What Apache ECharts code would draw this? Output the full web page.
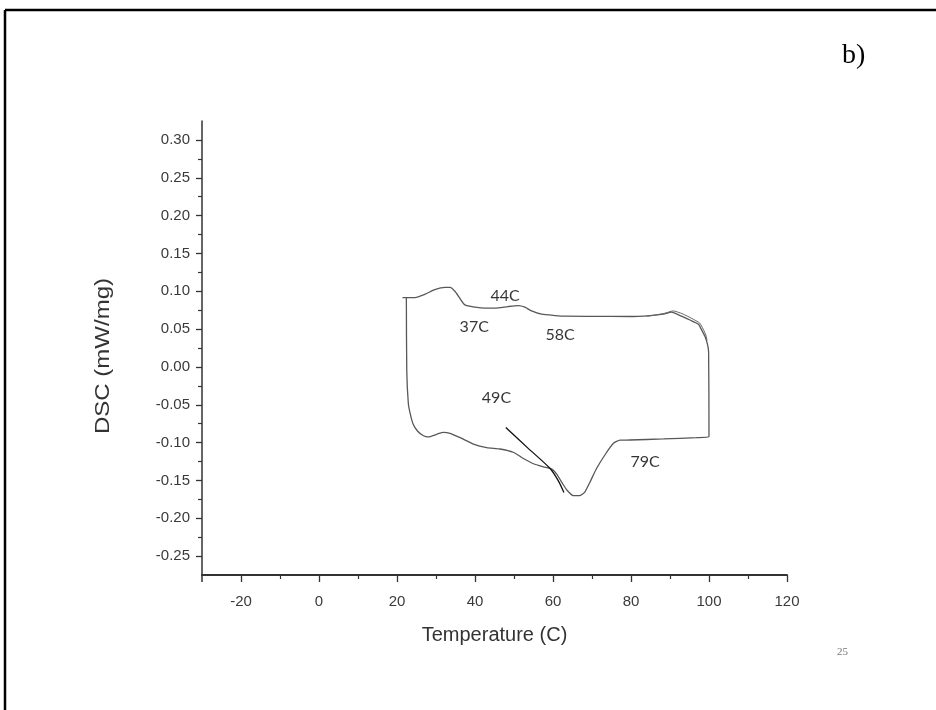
<!DOCTYPE html>
<html>
<head>
<meta charset="utf-8">
<title>DSC thermogram</title>
<script src="https://cdn.jsdelivr.net/npm/echarts@6/dist/echarts.min.js"></script>
<style>
  html, body { margin: 0; padding: 0; background: #ffffff; }
  #chart { width: 936px; height: 710px; }
</style>
</head>
<body>
<div id="chart"></div>
<script>
// Heat-flow loop: heating trace, isothermal step at 100 C, cooling trace back to ~22 C
const loopCurve = [
  [21.4, 0.0917], [24.6, 0.0917], [27.2, 0.0961], [29.7, 0.102], [32.3, 0.105],
  [33.6, 0.105], [34.9, 0.0996], [36.2, 0.090], [37.4, 0.082], [40.0, 0.079],
  [42.6, 0.0776], [45.1, 0.0776], [48.5, 0.0798], [51.1, 0.081], [52.8, 0.079],
  [54.5, 0.074], [57.1, 0.0697], [60.5, 0.0679], [63.1, 0.067], [70.0, 0.0668],
  [79.7, 0.0666], [84.9, 0.0679], [88.3, 0.0697], [90.4, 0.0723], [92.6, 0.0679],
  [95.1, 0.062], [97.3, 0.0564], [98.1, 0.049], [99.0, 0.040], [99.6, 0.030],
  [99.9, 0.020], [100.0, -0.092], [96.8, -0.0935], [88.3, -0.0952], [79.7, -0.0966],
  [77.2, -0.0968], [75.5, -0.101], [73.3, -0.1164], [71.2, -0.134], [69.5, -0.152],
  [68.2, -0.165], [66.9, -0.170], [65.2, -0.170], [63.6, -0.163], [62.3, -0.153],
  [61.0, -0.142], [59.7, -0.135], [57.5, -0.132], [55.0, -0.128], [52.4, -0.121],
  [49.8, -0.1128], [46.4, -0.1085], [43.0, -0.1067], [39.6, -0.102], [36.2, -0.0935],
  [33.6, -0.0877], [31.9, -0.0864], [30.2, -0.089], [28.0, -0.0925], [26.8, -0.091],
  [25.3, -0.085], [24.1, -0.075], [23.4, -0.062], [22.9, -0.048], [22.5, -0.004],
  [22.4, 0.0917]
];

// Repeat heating run, visible where it separates near the end of the ramp
const repeatTrace = [
  [84.0, 0.0668], [88.5, 0.0707], [90.8, 0.0740], [93.2, 0.0702], [95.6, 0.0640],
  [97.6, 0.0580], [98.5, 0.0500], [99.2, 0.0420], [99.5, 0.0350]
];

// Onset tangent drawn on the cooling exotherm
const tangentLine = [
  [47.9, -0.080], [53.5, -0.107], [59.2, -0.134], [61.3, -0.150], [62.8, -0.166]
];

// Transition temperature annotations: [T, DSC, text]
const annotations = [
  [47.7, 0.094, '44C'],
  [39.8, 0.0525, '37C'],
  [61.8, 0.0423, '58C'],
  [45.5, -0.0414, '49C'],
  [83.6, -0.1253, '79C']
];

// Axis ticks
const xMajorTicks = [-20, 0, 20, 40, 60, 80, 100, 120];
const xMinorTicks = [-10, 10, 30, 50, 70, 90, 110];
const yMajorTicks = [-0.25, -0.20, -0.15, -0.10, -0.05, 0.00, 0.05, 0.10, 0.15, 0.20, 0.25, 0.30];
const yMinorTicks = [-0.225, -0.175, -0.125, -0.075, -0.025, 0.025, 0.075, 0.125, 0.175, 0.225, 0.275];

const X_MIN = -30, X_MAX = 120, Y_MIN = -0.275, Y_MAX = 0.325;
const axisColor = '#333333';
const labelFont = 'Liberation Sans, Arial, sans-serif';

const chart = echarts.init(document.getElementById('chart'), null, { renderer: 'canvas' });

const option = {
  backgroundColor: '#ffffff',
  animation: false,
  grid: { left: 202, right: 149, top: 121, bottom: 135, containLabel: false },
  xAxis: [
    {
      type: 'value', min: X_MIN, max: X_MAX, interval: 10,
      position: 'bottom',
      name: 'Temperature (C)', nameLocation: 'middle', nameGap: 50,
      nameTextStyle: { fontFamily: labelFont, fontSize: 20, color: '#333' },
      axisLine: { show: true, onZero: false, lineStyle: { color: axisColor, width: 2 } },
      axisTick: { show: true, inside: false, length: 7, customValues: xMajorTicks, lineStyle: { color: axisColor, width: 1.3 } },
      axisLabel: { show: true, customValues: xMajorTicks, margin: 19, fontFamily: labelFont, fontSize: 15, color: '#3a3a3a' },
      splitLine: { show: false }
    },
    {
      type: 'value', min: X_MIN, max: X_MAX, interval: 10,
      position: 'bottom', gridIndex: 0,
      axisLine: { show: false, onZero: false },
      axisTick: { show: true, length: 4, customValues: xMinorTicks, lineStyle: { color: axisColor, width: 1.2 } },
      axisLabel: { show: false },
      splitLine: { show: false }
    }
  ],
  yAxis: [
    {
      type: 'value', min: Y_MIN, max: Y_MAX, interval: 0.025,
      position: 'left',
      axisLine: { show: true, onZero: false, lineStyle: { color: axisColor, width: 1.5 } },
      axisTick: { show: true, length: 6, customValues: yMajorTicks, lineStyle: { color: axisColor, width: 1.3 } },
      axisLabel: {
        show: true, customValues: yMajorTicks, margin: 12,
        fontFamily: labelFont, fontSize: 15, color: '#3a3a3a',
        formatter: v => v.toFixed(2)
      },
      splitLine: { show: false }
    },
    {
      type: 'value', min: Y_MIN, max: Y_MAX, interval: 0.025,
      position: 'left', gridIndex: 0,
      axisLine: { show: false, onZero: false },
      axisTick: { show: true, length: 4, customValues: yMinorTicks, lineStyle: { color: axisColor, width: 1.2 } },
      axisLabel: { show: false },
      splitLine: { show: false }
    }
  ],
  series: [
    {
      name: 'DSC loop', type: 'line', xAxisIndex: 0, yAxisIndex: 0,
      data: loopCurve, showSymbol: false, symbol: 'none', smooth: 0.2,
      lineStyle: { color: '#585858', width: 1.3 }
    },
    {
      name: 'Repeat run', type: 'line', xAxisIndex: 0, yAxisIndex: 0,
      data: repeatTrace, showSymbol: false, symbol: 'none', smooth: 0.2,
      lineStyle: { color: '#666666', width: 1 }
    },
    {
      name: 'Onset tangent', type: 'line', xAxisIndex: 0, yAxisIndex: 0,
      data: tangentLine, showSymbol: false, symbol: 'none', smooth: 0.3,
      lineStyle: { color: '#111111', width: 1.3 }
    },
    {
      name: 'Transitions', type: 'scatter', xAxisIndex: 0, yAxisIndex: 0,
      data: annotations.map(a => ({ value: [a[0], a[1]], name: a[2] })),
      symbol: 'circle', symbolSize: 1,
      itemStyle: { color: 'transparent' },
      label: {
        show: true, position: 'inside', formatter: '{b}',
        fontFamily: 'Lato, Open Sans, sans-serif', fontSize: 16, color: '#000000'
      },
      silent: true
    }
  ],
  graphic: [
    // frame lines along the top and left edge
    { type: 'line', shape: { x1: 5, y1: 10, x2: 936, y2: 10 }, style: { stroke: '#000', lineWidth: 2.5 } },
    { type: 'line', shape: { x1: 5, y1: 10, x2: 5, y2: 710 }, style: { stroke: '#000', lineWidth: 2.5 } },
    { type: 'text', left: 842, top: 42, style: { text: 'b)', font: '28px "Liberation Serif", "Times New Roman", serif', fill: '#000' } },
    { type: 'text', left: 837, top: 647, style: { text: '25', font: '11px "Liberation Serif", serif', fill: '#777' } },
    // vertical axis title, stretched along its reading direction
    {
      type: 'text', x: 103, y: 356, rotation: Math.PI / 2, scaleX: 1.2,
      style: {
        text: 'DSC (mW/mg)', font: '20px "Liberation Sans", Arial, sans-serif',
        fill: '#333', align: 'center', verticalAlign: 'middle'
      }
    }
  ]
};

chart.setOption(option);

// y axis line continues a few pixels below the x axis
const corner = chart.convertToPixel({ gridIndex: 0 }, [X_MIN, Y_MIN]);
chart.setOption({
  graphic: option.graphic.concat([
    { type: 'line', shape: { x1: corner[0], y1: corner[1], x2: corner[0], y2: corner[1] + 7 }, style: { stroke: axisColor, lineWidth: 1.5 } }
  ])
});
</script>
</body>
</html>
